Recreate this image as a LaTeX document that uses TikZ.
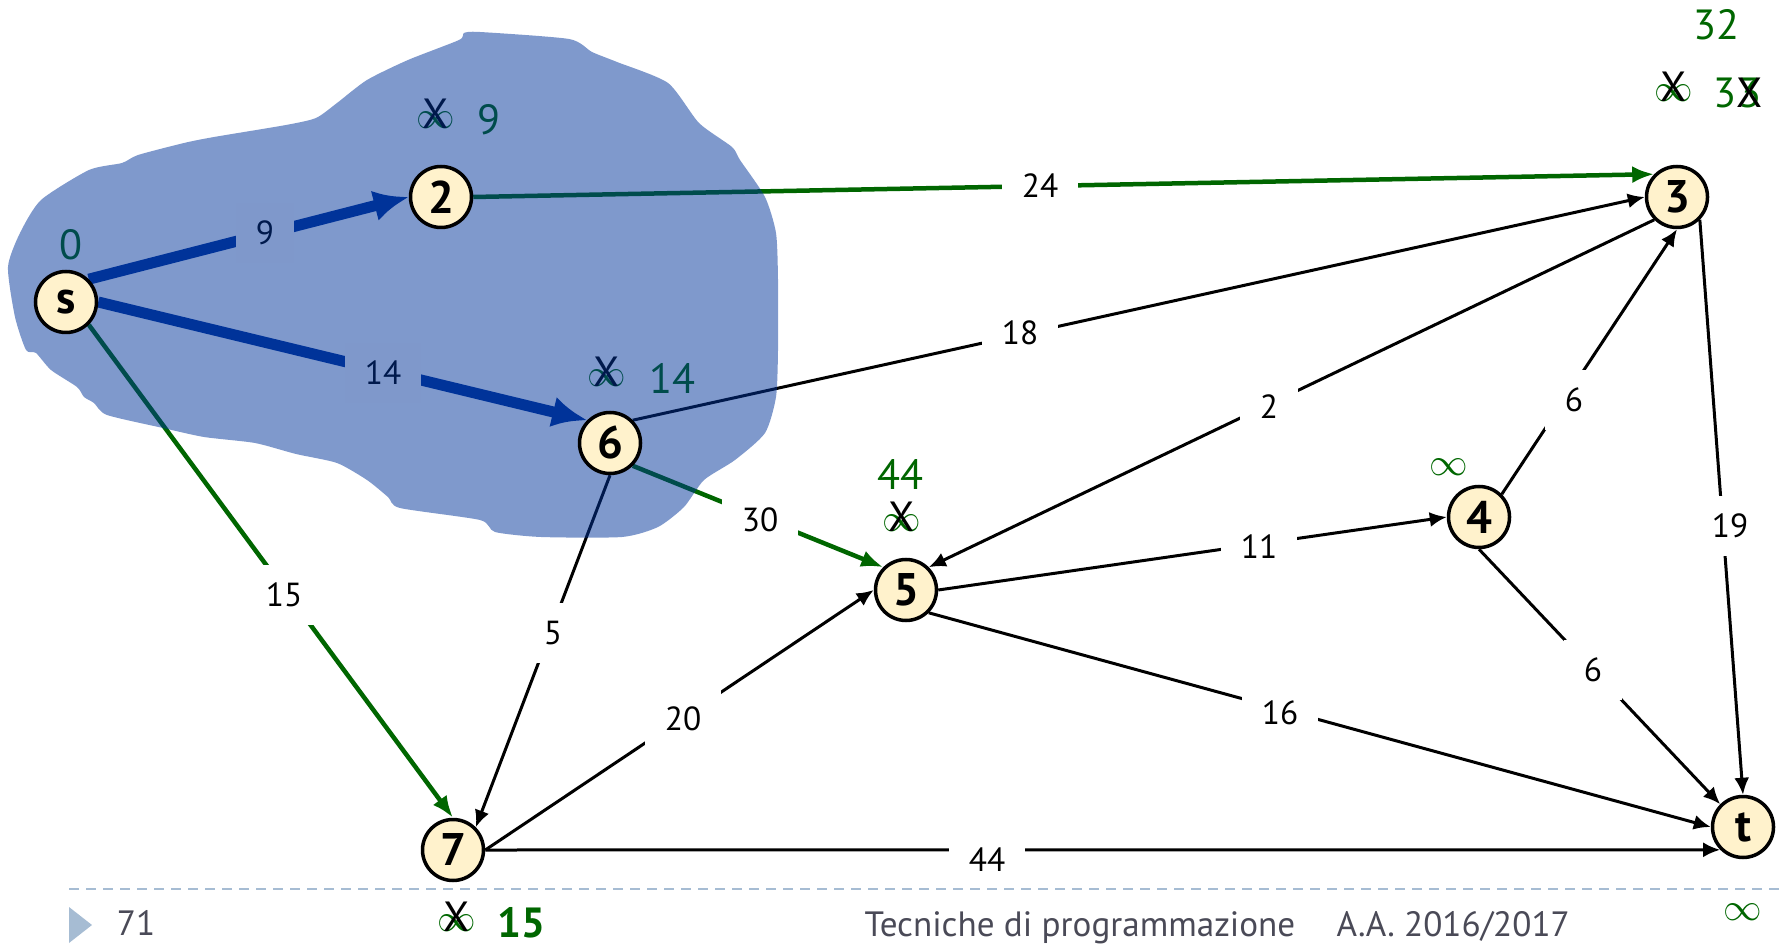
\documentclass[tikz,border=0pt]{standalone}
\usepackage{fontspec}
\setmainfont{PT Sans}
\usepackage{tikz}
\usetikzlibrary{arrows.meta}
\definecolor{leaf}{HTML}{006600}
\definecolor{royal}{HTML}{003399}
\definecolor{cream}{HTML}{FFF2CC}
\definecolor{slate}{HTML}{A6BCD3}
\definecolor{ink}{HTML}{4A4A57}
\newcommand{\infy}{{\fontsize{11}{11}\selectfont$\infty$}}
\newcommand{\crossed}[1]{\ooalign{\hfil#1\hfil\cr\hfil\textcolor{black}{X}\hfil\cr}}
\tikzset{vtx/.style={circle,draw,line width=0.35mm,fill=cream,minimum size=6.1mm,inner sep=0pt,font=\bfseries\fontsize{13}{13}\selectfont},wlab/.style={fill=white,inner xsep=2mm,inner ysep=0pt,minimum height=6mm,font=\fontsize{9.5}{10}\selectfont},dist/.style={text=leaf,inner sep=0pt,font=\fontsize{12}{12}\selectfont},arr/.style={line width=0.3mm,-{Latex[length=1.7mm,width=1.5mm]}},best/.style={line width=0.45mm,draw=leaf,-{Latex[length=2.2mm,width=1.7mm]}},tree/.style={line width=1.1mm,draw=royal,-{Latex[length=3.5mm,width=3.1mm]}}}
\pgfdeclarelayer{edges}
\pgfdeclarelayer{blob}
\pgfsetlayers{edges,blob,main}

\begin{document}
\begin{tikzpicture}[x=0.1mm,y=-0.1mm]
\useasboundingbox (0,0) rectangle (1783,944);
% vertices
\node[vtx] (s) at (66,302) {s};
\node[vtx] (n2) at (441,197) {2};
\node[vtx] (n6) at (610,443) {6};
\node[vtx] (n3) at (1677,197) {3};
\node[vtx] (n5) at (906,590) {5};
\node[vtx] (n4) at (1479,517) {4};
\node[vtx] (n7) at (453,850) {7};
\node[vtx] (t) at (1743,827) {t};
\begin{pgfonlayer}{edges}
% edges
\draw[tree] (s.45) -- (n2.west);
\draw[tree] (s.east) -- (n6.135);
\draw[best] (s.-45) -- (n7.north);
\draw[best] (n2.east) -- (n3.135);
\draw[best] (n6.-45) -- (n5.135);
\draw[arr] (n6.45) -- (n3.west);
\draw[arr] (n6.south) -- (n7.45);
\draw[arr] (n3.225) -- (n5.45);
\draw[arr] (n3.-45) -- (t.north);
\draw[arr] (n4.45) -- (n3.south);
\draw[arr] (n4.south) -- (t.135);
\draw[arr] (n5.east) -- (n4.west);
\draw[arr] (n5.-45) -- (t.west);
\draw[arr] (n7.east) -- (n5.west);
\draw[arr] (n7.east) -- (t.225);
% weights
\node[wlab] (w9) at (265,233) {9};
\node[wlab] (w14) at (383,373) {14};
\node[wlab] (w15) at (284,595) {15};
\node[wlab] (w24) at (1040,186) {24};
\node[wlab] (w18) at (1020,333) {18};
\node[wlab] (w2) at (1269,407) {2};
\node[wlab] (w11) at (1259,547) {11};
\node[wlab] (w30) at (760,520) {30};
\node[wlab] (w5) at (553,633) {5};
\node[wlab] (w20) at (683,719) {20};
\node[wlab] (w16) at (1280,713) {16};
\node[wlab] (w44) at (987,860) {44};
\node[wlab] (w6a) at (1574,400) {6};
\node[wlab] (w6b) at (1593,670) {6};
\node[wlab] (w19) at (1730,526) {19};
% distances
\node[dist] (d0) at (71,245) {0};
\node[dist] (d2x) at (436,120) {\crossed{\infy}};
\node[dist] (d2) at (489,120) {9};
\node[dist] (d6x) at (607,378) {\crossed{\infy}};
\node[dist] (d6) at (672,378) {14};
\end{pgfonlayer}
\begin{pgfonlayer}{blob}
\fill[royal,fill opacity=0.5] plot[smooth cycle,tension=0.4] coordinates {(464,33) (480,32) (569,39) (592,52) (617,62) (668,83) (699,123) (732,147) (740,160) (765,197) (776,233) (778,280) (778,350) (776,397) (765,433) (735,460) (704,480) (684,507) (658,527) (622,537) (541,537) (495,532) (480,520) (400,508) (388,497) (367,480) (337,463) (296,454) (255,443) (204,437) (163,428) (107,415) (94,403) (84,397) (77,387) (51,370) (36,353) (26,350) (15,317) (8,267) (20,233) (41,200) (89,170) (122,163) (138,155) (184,143) (214,137) (286,125) (316,118) (337,103) (367,80) (408,60) (459,40)};
\end{pgfonlayer}
\node[dist] (d5) at (900,475) {44};
\node[dist] (d5x) at (902,523) {\crossed{\infy}};
\node[dist] (d4) at (1449,467) {\infy};
\node[dist] (d3) at (1716,25) {32};
\node[dist] (d3x) at (1674,93) {\crossed{\infy}};
\node[dist] (d3b) at (1738,93) {3\crossed{3}};
\node[dist] (d7x) at (457,923) {\crossed{\infy}};
\node[dist,font=\bfseries\fontsize{12}{12}\selectfont] (d7) at (521,923) {15};
\node[dist] (dt) at (1743,912) {\infy};
% footer
\draw[slate,line width=0.25mm,dash pattern=on 1mm off 0.7mm] (69,889) -- (1783,889);
\fill[slate] (69,907) -- (92,925) -- (69,943) -- cycle;
\node[text=ink,font=\fontsize{10}{10}\selectfont] (pg) at (136,923) {71};
\node[text=ink,anchor=base west,inner sep=0pt,font=\fontsize{10}{10}\selectfont] (course) at (864,936) {Tecniche di programmazione};
\node[text=ink,anchor=base west,inner sep=0pt,font=\fontsize{10}{10}\selectfont] (year) at (1336,936) {A.A. 2016/2017};
\end{tikzpicture}
\end{document}
